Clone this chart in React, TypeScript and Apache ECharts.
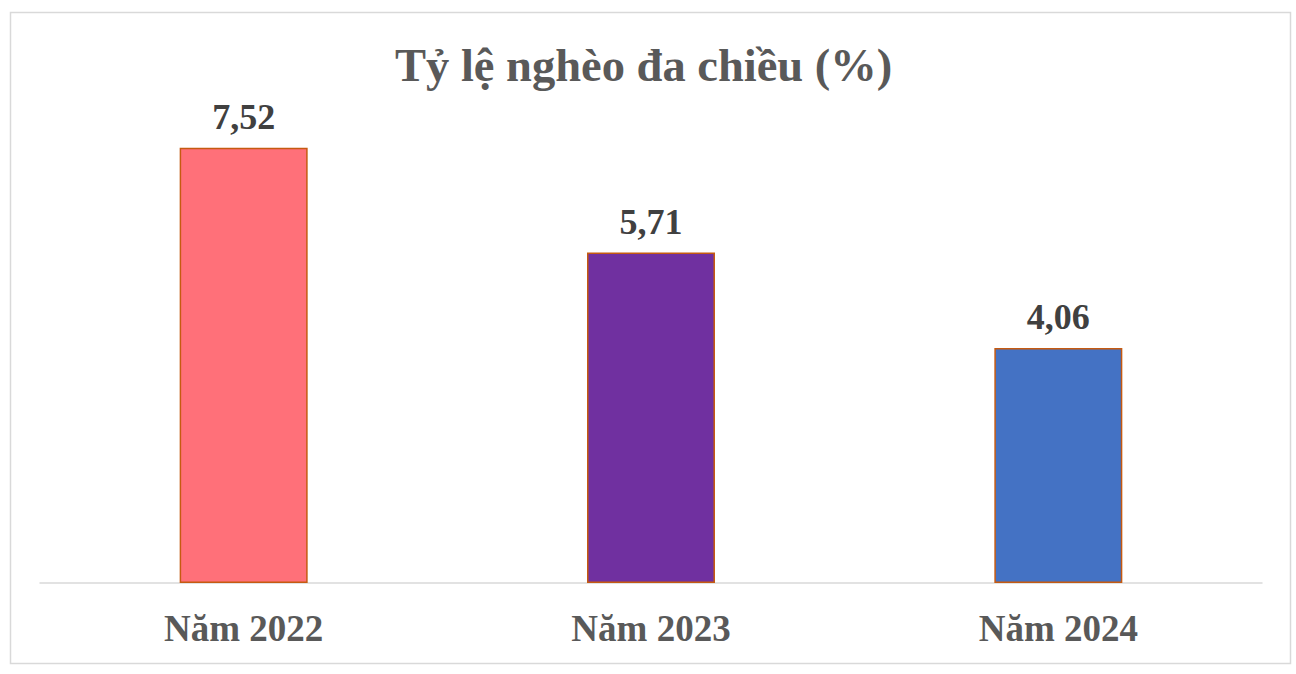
import React, { useEffect, useRef } from "react";
import * as echarts from "echarts";

const categories = ["Năm 2022", "Năm 2023", "Năm 2024"];
const values = [7.52, 5.71, 4.06];
const barColors = ["#FF7079", "#7030A0", "#4472C4"];
const titleText = "Tỷ lệ nghèo đa chiều (%)";

export default function App() {
  const ref = useRef<HTMLDivElement>(null);
  useEffect(() => {
    const chart = echarts.init(ref.current!, null, { renderer: "svg" });
    chart.setOption({
      animation: false,
      backgroundColor: "#ffffff",
      title: {
        text: titleText,
        left: 390,
        top: 37,
        textStyle: {
          fontFamily: "Liberation Serif",
          fontWeight: "bold",
          fontSize: 46.5,
          color: "#595959",
        },
      },
      graphic: [
        {
          type: "rect",
          shape: { x: 10.5, y: 12.5, width: 1280, height: 651 },
          style: { fill: "none", stroke: "#d9d9d9", lineWidth: 1.5 },
          silent: true,
        },
      ],
      grid: { left: 40, right: 34, top: 120, bottom: 91 },
      xAxis: {
        type: "category",
        data: categories,
        axisLine: { lineStyle: { color: "#d9d9d9", width: 1.5 } },
        axisTick: { show: false },
        axisLabel: {
          fontFamily: "Liberation Serif",
          fontWeight: "bold",
          fontSize: 37,
          color: "#595959",
          margin: 27,
        },
      },
      yAxis: {
        type: "value",
        min: 0,
        max: 8,
        show: false,
        splitLine: { show: false },
      },
      series: [
        {
          type: "bar",
          barWidth: 128,
          data: values.map((v, i) => ({
            value: v,
            itemStyle: { color: barColors[i] },
          })),
          itemStyle: { borderColor: "#C55A11", borderWidth: 1.5 },
          label: {
            show: true,
            position: "top",
            distance: 13,
            formatter: (p: any) => String(p.value).replace(".", ","),
            fontFamily: "Liberation Serif",
            fontWeight: "bold",
            fontSize: 36,
            color: "#404040",
          },
        },
      ],
    });
    return () => chart.dispose();
  }, []);
  return (
    <div
      ref={ref}
      style={{ position: "fixed", left: 0, top: 0, width: 1296, height: 674 }}
    />
  );
}
